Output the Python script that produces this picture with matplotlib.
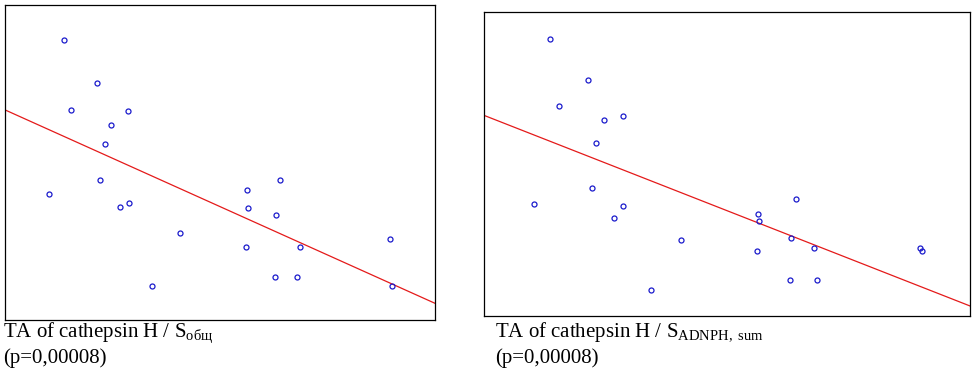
import matplotlib
matplotlib.use("Agg")
import matplotlib.pyplot as plt
import numpy as np

plt.rcParams['mathtext.fontset'] = 'custom'
plt.rcParams['mathtext.rm'] = 'Liberation Serif'
plt.rcParams['mathtext.it'] = 'Liberation Serif'

# left panel: TA of cathepsin H vs S_общ (axes units 0..100)
x_left = [13.65, 21.5, 15.4, 28.7, 24.65, 23.2, 22.2, 10.3, 26.7, 28.8, 40.6,
          34.3, 56.3, 64.0, 56.5, 63.1, 56.1, 68.5, 62.8, 68.0, 89.5, 90.1]
y_left = [88.9, 75.3, 66.6, 66.3, 61.9, 56.0, 44.5, 40.0, 35.9, 37.0, 27.7,
          10.8, 41.4, 44.3, 35.7, 33.2, 23.1, 23.1, 13.6, 13.6, 25.8, 10.9]
fit_left = [66.7, 5.3]   # line value at x=0 and x=100

# right panel: TA of cathepsin H vs S_ADNPH,sum
x_right = [13.6, 21.5, 15.4, 24.6, 28.7, 23.1, 22.2, 10.3, 26.7, 28.7, 40.6,
           34.3, 56.4, 56.6, 64.1, 63.1, 56.2, 68.0, 62.9, 68.6, 89.7, 90.2]
y_right = [91.1, 77.7, 69.2, 64.4, 65.9, 57.0, 42.2, 36.9, 32.3, 36.1, 25.1,
           8.6, 33.7, 31.2, 38.6, 25.8, 21.4, 22.3, 11.8, 11.8, 22.3, 21.4]
fit_right = [66.0, 3.3]

labels = [r"TA of cathepsin H / S$_{\rm общ}$",
          r"TA of cathepsin H / S$_{\rm ADNPH,\ sum}$"]
p_text = "(p=0,00008)"

W, H = 977, 380
fig = plt.figure(figsize=(W / 100, H / 100), dpi=100)

# axes boxes in pixels: x0, x1, y_top, y_bottom
boxes = [(5, 435, 5, 320), (484, 970, 12, 316)]
data = [(x_left, y_left, fit_left), (x_right, y_right, fit_right)]
text_x = [3, 495]

for (x0, x1, yt, yb), (xs, ys, fit), lab, tx in zip(boxes, data, labels, text_x):
    ax = fig.add_axes([x0 / W, 1 - yb / H, (x1 - x0) / W, (yb - yt) / H])
    ax.plot([0, 100], fit, color='#e41a1a', lw=0.9, zorder=1)
    ax.plot(xs, ys, 'o', mfc='none', mec='#1a1acc', ms=3.6, mew=0.9, zorder=2)
    ax.set_xlim(0, 100)
    ax.set_ylim(0, 100)
    ax.set_xticks([])
    ax.set_yticks([])
    for s in ax.spines.values():
        s.set_linewidth(0.9)
    fig.text(tx / W, 1 - 337 / H, lab, fontsize=15, family='Liberation Serif',
             va='baseline', ha='left')
    fig.text(tx / W, 1 - 363 / H, p_text, fontsize=15, family='Liberation Serif',
             va='baseline', ha='left')

fig.savefig("out.png", dpi=100)
